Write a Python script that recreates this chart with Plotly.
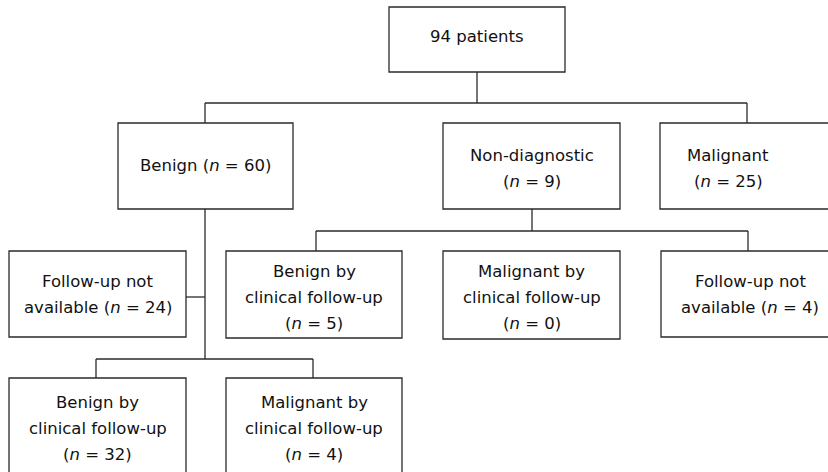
import plotly.graph_objects as go

# ---- data: node labels and patient counts ----
node_names = ["root", "benign", "nondiag", "malig",
              "fu_na_b", "benign_fu_nd", "malig_fu_nd", "fu_na_nd",
              "benign_fu_b", "malig_fu_b"]
node_titles = [["94 patients"],
               ["Benign (<i>n</i> = {n})"],
               ["Non-diagnostic", "(<i>n</i> = {n})"],
               ["Malignant", "(<i>n</i> = {n})"],
               ["Follow-up not", "available (<i>n</i> = {n})"],
               ["Benign by", "clinical follow-up", "(<i>n</i> = {n})"],
               ["Malignant by", "clinical follow-up", "(<i>n</i> = {n})"],
               ["Follow-up not", "available (<i>n</i> = {n})"],
               ["Benign by", "clinical follow-up", "(<i>n</i> = {n})"],
               ["Malignant by", "clinical follow-up", "(<i>n</i> = {n})"]]
node_counts = [94, 60, 9, 25, 24, 5, 0, 4, 32, 4]

# ---- layout (pixel coordinates of the diagram) ----
box_x0 = [389, 118, 443, 660, 9, 226, 443, 661, 9, 226]
box_x1 = [565, 293, 620, 840, 186, 402, 620, 840, 186, 402]
box_y0 = [7, 123, 123, 123, 251, 251, 251, 251, 378, 378]
box_y1 = [72, 209, 209, 209, 337, 338, 339, 337, 490, 490]
text_cx = [477, 205.5, 531.5, 728, 97.5, 314, 531.5, 750, 97.5, 314]
text_cy = [36, 165, 168, 168, 294, 297, 297, 294, 428, 428]
line_gap = 26

connectors = [  # (x0, y0, x1, y1)
    (477, 72, 477, 103), (205, 103, 747, 103),
    (205, 103, 205, 123), (747, 103, 747, 123),
    (532, 209, 532, 231), (316, 231, 748, 231),
    (316, 231, 316, 251), (748, 231, 748, 251),
    (205, 209, 205, 359), (186, 297, 205, 297),
    (96, 359, 313, 359), (96, 359, 96, 378), (313, 359, 313, 378),
]

W, H = 828, 472
LINE = "#2a2a2a"
FONT = dict(family="DejaVu Sans", size=16.5, color="#111111")

fig = go.Figure()
shapes = []
for x0, x1, y0, y1 in zip(box_x0, box_x1, box_y0, box_y1):
    shapes.append(dict(type="rect", xref="x", yref="y", x0=x0, x1=x1, y0=y0, y1=y1,
                       line=dict(color=LINE, width=1.3), fillcolor="white", layer="below"))
for x0, y0, x1, y1 in connectors:
    shapes.append(dict(type="line", xref="x", yref="y", x0=x0, y0=y0, x1=x1, y1=y1,
                       line=dict(color=LINE, width=1.3), layer="below"))

annotations = []
for lines, n, cx, cy in zip(node_titles, node_counts, text_cx, text_cy):
    k = len(lines)
    for i, ln in enumerate(lines):
        annotations.append(dict(x=cx, y=cy + (i - (k - 1) / 2) * line_gap,
                                xref="x", yref="y", text=ln.format(n=n),
                                showarrow=False, xanchor="center", yanchor="middle",
                                font=FONT))

fig.add_trace(go.Scatter(x=[0, W], y=[0, H], mode="markers",
                         marker=dict(opacity=0), hoverinfo="skip", showlegend=False))
fig.update_layout(
    width=W, height=H, autosize=False,
    margin=dict(l=0, r=0, t=0, b=0),
    paper_bgcolor="white", plot_bgcolor="white",
    shapes=shapes, annotations=annotations, showlegend=False,
    xaxis=dict(range=[0, W], visible=False, fixedrange=True),
    yaxis=dict(range=[H, 0], visible=False, fixedrange=True),
)
fig.write_html("out.html", config={"displayModeBar": False},
               post_script="document.body.style.margin='0px';document.body.style.overflow='hidden';")
